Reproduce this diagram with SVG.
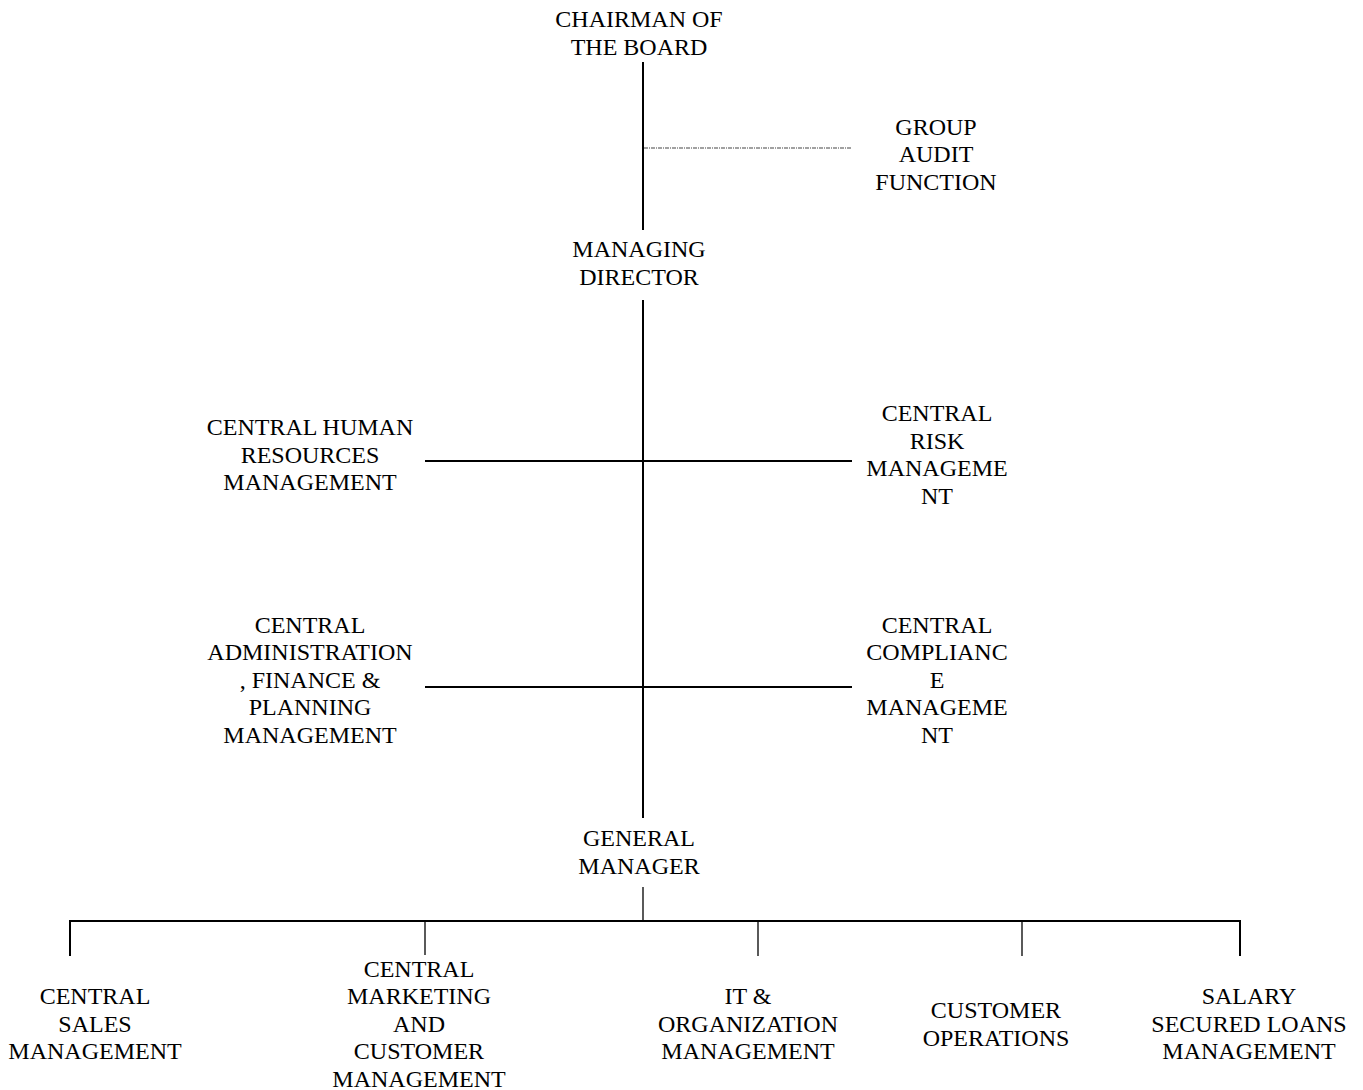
<svg xmlns="http://www.w3.org/2000/svg" width="1363" height="1090" viewBox="0 0 1363 1090">
<style>
text{font-family:"Liberation Serif","Times New Roman",serif;font-size:24px;fill:#000;text-anchor:middle}
.l{stroke:#000;stroke-width:2;fill:none}
.t{stroke:#000;stroke-width:1.3;fill:none}
.d{stroke:#444;stroke-width:1.2;stroke-dasharray:4,1,1,1;fill:none}
</style>
<rect width="1363" height="1090" fill="#fff"/>
<g id="connectors">
<line class="l" x1="643" y1="62" x2="643" y2="230"/>
<line class="d" x1="644" y1="148" x2="852" y2="148"/>
<line class="l" x1="643" y1="300" x2="643" y2="818"/>
<line class="l" x1="425" y1="461" x2="852" y2="461"/>
<line class="l" x1="425" y1="687" x2="852" y2="687"/>
<line class="t" x1="643" y1="887" x2="643" y2="920"/>
<line class="l" x1="69" y1="921" x2="1241" y2="921" stroke-width="2.5"/>
<line class="l" x1="70" y1="920" x2="70" y2="956"/>
<line class="t" x1="425" y1="920" x2="425" y2="955"/>
<line class="t" x1="758" y1="920" x2="758" y2="956"/>
<line class="t" x1="1022" y1="920" x2="1022" y2="956"/>
<line class="l" x1="1240" y1="920" x2="1240" y2="956"/>
</g>
<g id="chairman"><text x="639" y="27">CHAIRMAN OF</text><text x="639" y="55">THE BOARD</text></g>
<g id="group-audit"><text x="936" y="135">GROUP</text><text x="936" y="162">AUDIT</text><text x="936" y="190">FUNCTION</text></g>
<g id="managing-director"><text x="639" y="257">MANAGING</text><text x="639" y="285">DIRECTOR</text></g>
<g id="central-hr"><text x="310" y="435">CENTRAL HUMAN</text><text x="310" y="463">RESOURCES</text><text x="310" y="490">MANAGEMENT</text></g>
<g id="central-risk"><text x="937" y="421">CENTRAL</text><text x="937" y="449">RISK</text><text x="937" y="476">MANAGEME</text><text x="937" y="504">NT</text></g>
<g id="central-admin"><text x="310" y="633">CENTRAL</text><text x="310" y="660">ADMINISTRATION</text><text x="310" y="688">, FINANCE &amp;</text><text x="310" y="715">PLANNING</text><text x="310" y="743">MANAGEMENT</text></g>
<g id="central-compliance"><text x="937" y="633">CENTRAL</text><text x="937" y="660">COMPLIANC</text><text x="937" y="688">E</text><text x="937" y="715">MANAGEME</text><text x="937" y="743">NT</text></g>
<g id="general-manager"><text x="639" y="846">GENERAL</text><text x="639" y="874">MANAGER</text></g>
<g id="central-sales"><text x="95" y="1004">CENTRAL</text><text x="95" y="1032">SALES</text><text x="95" y="1059">MANAGEMENT</text></g>
<g id="central-marketing"><text x="419" y="977">CENTRAL</text><text x="419" y="1004">MARKETING</text><text x="419" y="1032">AND</text><text x="419" y="1059">CUSTOMER</text><text x="419" y="1087">MANAGEMENT</text></g>
<g id="it-organization"><text x="748" y="1004">IT &amp;</text><text x="748" y="1032">ORGANIZATION</text><text x="748" y="1059">MANAGEMENT</text></g>
<g id="customer-operations"><text x="996" y="1018">CUSTOMER</text><text x="996" y="1046">OPERATIONS</text></g>
<g id="salary-loans"><text x="1249" y="1004">SALARY</text><text x="1249" y="1032">SECURED LOANS</text><text x="1249" y="1059">MANAGEMENT</text></g>
</svg>
